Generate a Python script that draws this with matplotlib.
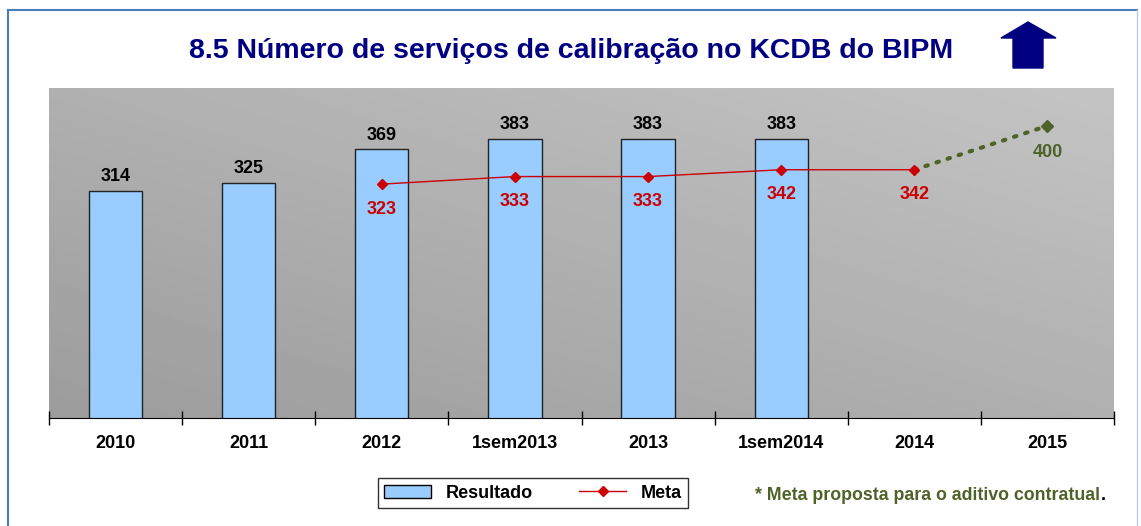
import numpy as np
import matplotlib.pyplot as plt
from matplotlib.patches import Polygon, Patch
from matplotlib.lines import Line2D

categories = ['2010', '2011', '2012', '1sem2013', '2013', '1sem2014', '2014', '2015']
resultado = [314, 325, 369, 383, 383, 383]
meta = [323, 333, 333, 342, 342]
meta_start = 2
meta_proposta = [342, 400]

red = '#cc0000'
green = '#4f6228'
navy = '#000080'
bar_color = '#99ccff'

plt.rcParams['font.family'] = ['Liberation Sans', 'DejaVu Sans']

fig = plt.figure(figsize=(11.41, 5.26), dpi=100)
W, H = 1141, 526

def fx(px):
    return px / W

def fy(py):
    return 1 - py / H

# outer frame
fig.add_artist(Line2D([fx(8), fx(8)], [fy(10), 0], color='#4a7ebb', lw=1.5))
fig.add_artist(Line2D([fx(8), fx(1137)], [fy(10), fy(10)], color='#4a7ebb', lw=1.5))
fig.add_artist(Line2D([fx(1137), fx(1137)], [fy(10), 0], color='#b8cce4', lw=1))

ax = fig.add_axes([fx(49), fy(418), fx(1114) - fx(49), fy(88) - fy(418)])

# gradient background
gx, gy = np.meshgrid(np.linspace(0, 1, 200), np.linspace(0, 1, 200))
grad = 156 + 20 * gx + 20 * gy
ax.imshow(grad, cmap='gray', vmin=0, vmax=255, extent=[0, 1, 0, 1],
          transform=ax.transAxes, origin='lower', aspect='auto', zorder=0)

x = np.arange(len(categories))
xr = x[:len(resultado)]
ax.bar(xr, resultado, width=0.4, color=bar_color, edgecolor='#222222', lw=1, zorder=2)
for xi, v in zip(xr, resultado):
    ax.annotate(str(v), (xi, v), xytext=(0, 4), textcoords='offset points',
                ha='center', va='bottom', fontsize=13, fontweight='bold', color='black')

xm = x[meta_start:meta_start + len(meta)]
ax.plot(xm, meta, color=red, lw=1, marker='D', ms=5, zorder=4)
for xi, v in zip(xm, meta):
    ax.annotate(str(v), (xi, v), xytext=(0, -18), textcoords='offset points',
                ha='center', va='center', fontsize=13, fontweight='bold', color=red)

xp = x[-2:]
ax.plot(xp, meta_proposta, color=green, lw=3, ls=(0, (0.6, 2.2)),
        dash_capstyle='round', zorder=3)
ax.plot(xp[-1], meta_proposta[-1], marker='D', ms=6, color=green, zorder=4)
ax.annotate(str(meta_proposta[-1]), (xp[-1], meta_proposta[-1]), xytext=(0, -19),
            textcoords='offset points', ha='center', va='center',
            fontsize=13, fontweight='bold', color=green)

ax.set_xlim(-0.5, len(categories) - 0.5)
ax.set_ylim(14, 450)
for s in ['left', 'right', 'top']:
    ax.spines[s].set_visible(False)
ax.spines['bottom'].set_color('black')
ax.set_yticks([])
ax.set_xticks(x)
ax.set_xticklabels(categories, fontsize=13, fontweight='bold')
ax.tick_params(axis='x', which='major', length=0, pad=12)
ax.set_xticks(np.arange(-0.5, len(categories)), minor=True)
ax.tick_params(axis='x', which='minor', length=10, direction='inout', width=1)

# title and arrow
fig.text(fx(571), fy(51), '8.5 Número de serviços de calibração no KCDB do BIPM',
         ha='center', va='center', fontsize=20.5, fontweight='bold', color=navy)
arrow_pts = [(1028, 22), (1056, 38), (1043, 38), (1043, 68), (1013, 68), (1013, 38), (1001, 38)]
fig.add_artist(Polygon([(fx(a), fy(b)) for a, b in arrow_pts], closed=True,
                       transform=fig.transFigure, facecolor=navy, edgecolor=navy))

# legend
handles = [Patch(facecolor=bar_color, edgecolor='black'),
           Line2D([], [], color=red, marker='D', ms=5, lw=1)]
leg = fig.legend(handles, ['Resultado', 'Meta'], loc='center', ncol=2,
                 bbox_to_anchor=(fx(533), fy(493)), frameon=True, fancybox=False,
                 edgecolor='black', handlelength=2.6, columnspacing=2.6,
                 prop={'size': 13, 'weight': 'bold'}, borderpad=0.35)
leg.get_frame().set_linewidth(1)

note = fig.text(fx(755), fy(495), '* Meta proposta para o aditivo contratual',
                ha='left', va='center', fontsize=12.8, fontweight='bold', color=green)
renderer = fig.canvas.get_renderer()
bb = note.get_window_extent(renderer)
fig.text(bb.x1 / W + 0.001, fy(495), '.', ha='left', va='center', fontsize=12.8,
         fontweight='bold', color='black')

fig.savefig('out.png', dpi=100)
